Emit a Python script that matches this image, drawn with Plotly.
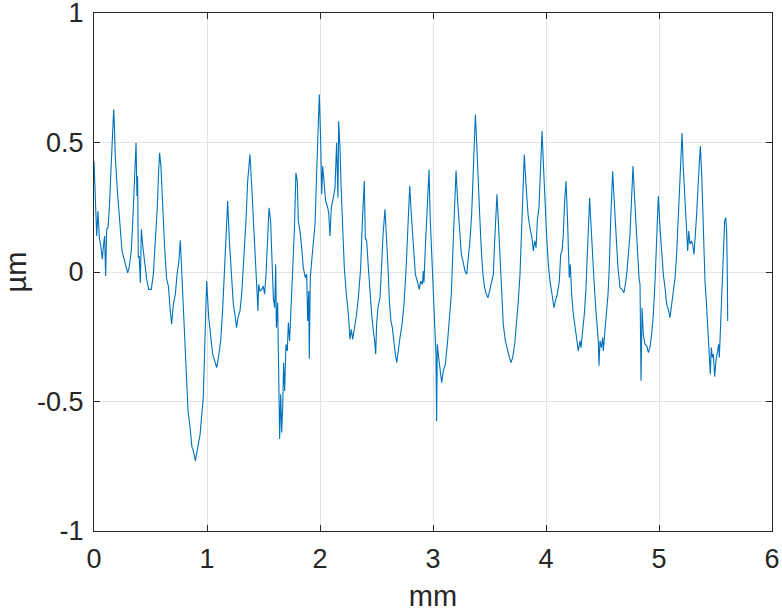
import plotly.graph_objects as go

# Profile position (mm) and height (um)
x_mm = [
    0.000, 0.018, 0.024, 0.035, 0.047, 0.062, 0.074, 0.083, 0.094, 0.103,
    0.112, 0.124, 0.136, 0.150, 0.165, 0.174, 0.180, 0.189, 0.207, 0.230,
    0.248, 0.271, 0.298, 0.313, 0.330, 0.342, 0.357, 0.372, 0.380, 0.386,
    0.392, 0.400, 0.410, 0.419, 0.430, 0.445, 0.466, 0.484, 0.507, 0.525,
    0.543, 0.560, 0.572, 0.581, 0.593, 0.608, 0.625, 0.643, 0.658, 0.673,
    0.687, 0.702, 0.720, 0.735, 0.750, 0.764, 0.779, 0.797, 0.814, 0.832,
    0.850, 0.867, 0.879, 0.897, 0.915, 0.938, 0.967, 0.982, 0.997, 1.015,
    1.032, 1.050, 1.068, 1.086, 1.103, 1.121, 1.138, 1.156, 1.171, 1.183,
    1.198, 1.215, 1.233, 1.251, 1.262, 1.274, 1.292, 1.309, 1.327, 1.345,
    1.360, 1.380, 1.395, 1.410, 1.428, 1.439, 1.451, 1.457, 1.469, 1.486,
    1.498, 1.510, 1.522, 1.537, 1.549, 1.563, 1.575, 1.587, 1.599, 1.608,
    1.614, 1.625, 1.631, 1.637, 1.643, 1.652, 1.661, 1.670, 1.678, 1.687,
    1.699, 1.711, 1.720, 1.731, 1.743, 1.758, 1.773, 1.787, 1.799, 1.808,
    1.823, 1.838, 1.852, 1.870, 1.882, 1.891, 1.900, 1.905, 1.914, 1.929,
    1.944, 1.956, 1.970, 1.985, 1.994, 2.006, 2.015, 2.024, 2.035, 2.050,
    2.065, 2.077, 2.088, 2.100, 2.118, 2.133, 2.147, 2.159, 2.165, 2.177,
    2.186, 2.198, 2.215, 2.233, 2.251, 2.265, 2.277, 2.289, 2.307, 2.324,
    2.342, 2.360, 2.375, 2.384, 2.392, 2.401, 2.413, 2.428, 2.442, 2.457,
    2.472, 2.484, 2.493, 2.501, 2.513, 2.531, 2.543, 2.558, 2.575, 2.590,
    2.602, 2.614, 2.628, 2.640, 2.655, 2.667, 2.679, 2.693, 2.708, 2.726,
    2.743, 2.761, 2.776, 2.794, 2.808, 2.826, 2.844, 2.861, 2.879, 2.891,
    2.906, 2.914, 2.920, 2.932, 2.944, 2.956, 2.965, 2.974, 2.985, 2.997,
    3.009, 3.021, 3.026, 3.032, 3.038, 3.050, 3.062, 3.077, 3.091, 3.109,
    3.127, 3.145, 3.162, 3.177, 3.192, 3.204, 3.218, 3.233, 3.251, 3.268,
    3.283, 3.298, 3.313, 3.327, 3.342, 3.354, 3.366, 3.375, 3.386, 3.398,
    3.413, 3.428, 3.442, 3.457, 3.472, 3.487, 3.501, 3.519, 3.534, 3.546,
    3.558, 3.566, 3.578, 3.593, 3.608, 3.622, 3.640, 3.658, 3.676, 3.690,
    3.705, 3.723, 3.741, 3.755, 3.770, 3.785, 3.797, 3.808, 3.823, 3.841,
    3.858, 3.876, 3.888, 3.900, 3.912, 3.923, 3.938, 3.953, 3.965, 3.976,
    3.988, 4.006, 4.021, 4.035, 4.053, 4.071, 4.083, 4.100, 4.118, 4.130,
    4.142, 4.153, 4.165, 4.177, 4.189, 4.201, 4.206, 4.215, 4.227, 4.242,
    4.257, 4.271, 4.286, 4.301, 4.310, 4.324, 4.339, 4.354, 4.366, 4.378,
    4.386, 4.398, 4.410, 4.425, 4.440, 4.454, 4.463, 4.469, 4.478, 4.490,
    4.502, 4.507, 4.519, 4.534, 4.549, 4.560, 4.572, 4.581, 4.590, 4.602,
    4.614, 4.625, 4.637, 4.655, 4.673, 4.690, 4.702, 4.714, 4.729, 4.743,
    4.755, 4.770, 4.782, 4.797, 4.808, 4.823, 4.832, 4.841, 4.850, 4.861,
    4.876, 4.891, 4.906, 4.920, 4.935, 4.950, 4.965, 4.979, 4.994, 5.009,
    5.024, 5.038, 5.053, 5.068, 5.086, 5.097, 5.112, 5.127, 5.142, 5.156,
    5.171, 5.186, 5.204, 5.215, 5.230, 5.245, 5.254, 5.263, 5.274, 5.286,
    5.298, 5.310, 5.321, 5.333, 5.348, 5.366, 5.378, 5.392, 5.407, 5.422,
    5.437, 5.448, 5.454, 5.463, 5.472, 5.481, 5.493, 5.504, 5.516, 5.528,
    5.534, 5.546, 5.558, 5.569, 5.581, 5.590, 5.599, 5.605, 5.608,
]
y_um = [
    0.428, 0.248, 0.139, 0.235, 0.132, 0.094, 0.049, 0.100, 0.139, -0.015,
    0.165, 0.171, 0.248, 0.390, 0.595, 0.627, 0.570, 0.440, 0.312, 0.184,
    0.081, 0.042, -0.003, 0.023, 0.081, 0.184, 0.351, 0.499, 0.293, 0.370,
    0.055, 0.062, -0.041, 0.165, 0.107, 0.042, -0.028, -0.067, -0.067, -0.009,
    0.120, 0.248, 0.390, 0.460, 0.402, 0.248, 0.094, -0.028, -0.054, -0.138,
    -0.202, -0.125, -0.086, -0.009, 0.036, 0.122, -0.035, -0.202, -0.369, -0.536,
    -0.600, -0.677, -0.690, -0.729, -0.684, -0.630, -0.485, -0.292, -0.035, -0.176,
    -0.253, -0.317, -0.343, -0.369, -0.324, -0.266, -0.150, 0.017, 0.184, 0.274,
    0.120, -0.009, -0.125, -0.176, -0.215, -0.176, -0.150, -0.073, 0.042, 0.197,
    0.351, 0.454, 0.338, 0.197, 0.055, -0.048, -0.150, -0.048, -0.073, -0.067,
    -0.054, -0.086, -0.009, 0.132, 0.248, 0.197, 0.042, -0.099, -0.138, 0.030,
    -0.215, -0.118, -0.292, -0.459, -0.645, -0.472, -0.620, -0.523, -0.350, -0.459,
    -0.279, -0.305, -0.195, -0.266, -0.150, -0.035, 0.158, 0.383, 0.351, 0.197,
    0.158, 0.094, 0.017, -0.022, -0.009, -0.189, -0.073, -0.335, -0.022, 0.055,
    0.120, 0.184, 0.377, 0.634, 0.685, 0.505, 0.300, 0.409, 0.338, 0.274,
    0.254, 0.229, 0.139, 0.248, 0.287, 0.325, 0.499, 0.287, 0.582, 0.479,
    0.338, 0.222, 0.017, -0.086, -0.163, -0.260, -0.221, -0.260, -0.215, -0.163,
    -0.086, 0.017, 0.197, 0.274, 0.351, 0.132, 0.120, 0.017, -0.086, -0.163,
    -0.228, -0.266, -0.317, -0.202, -0.138, -0.099, 0.004, 0.145, 0.242, 0.132,
    0.017, -0.112, -0.189, -0.215, -0.279, -0.317, -0.350, -0.292, -0.253, -0.202,
    -0.125, 0.004, 0.171, 0.332, 0.222, 0.081, -0.009, -0.035, -0.067, -0.035,
    -0.048, 0.004, -0.041, 0.094, 0.222, 0.300, 0.396, 0.222, 0.094, -0.035,
    -0.163, -0.253, -0.317, -0.575, -0.279, -0.330, -0.382, -0.427, -0.382, -0.356,
    -0.279, -0.189, -0.086, 0.094, 0.287, 0.392, 0.274, 0.171, 0.068, 0.036,
    0.004, -0.009, 0.055, 0.120, 0.222, 0.389, 0.531, 0.608, 0.505, 0.351,
    0.222, 0.081, -0.009, -0.060, -0.086, -0.099, -0.073, -0.035, -0.009, 0.120,
    0.248, 0.300, 0.197, 0.068, -0.086, -0.202, -0.266, -0.305, -0.330, -0.350,
    -0.330, -0.279, -0.189, -0.112, -0.009, 0.184, 0.377, 0.454, 0.338, 0.222,
    0.171, 0.132, 0.081, 0.120, 0.094, 0.197, 0.248, 0.415, 0.544, 0.428,
    0.287, 0.132, 0.030, -0.035, -0.086, -0.138, -0.112, -0.086, -0.035, 0.068,
    0.081, 0.145, 0.274, 0.351, 0.222, 0.042, -0.022, 0.030, -0.086, -0.163,
    -0.215, -0.253, -0.305, -0.266, -0.292, -0.228, -0.163, -0.060, 0.094, 0.222,
    0.287, 0.184, 0.068, -0.035, -0.138, -0.215, -0.266, -0.362, -0.266, -0.292,
    -0.253, -0.305, -0.228, -0.163, -0.086, 0.017, 0.197, 0.325, 0.389, 0.287,
    0.171, 0.107, 0.017, -0.060, -0.067, -0.080, -0.048, -0.009, 0.068, 0.145,
    0.261, 0.409, 0.300, 0.184, 0.081, -0.022, -0.048, -0.420, -0.138, -0.240,
    -0.279, -0.285, -0.311, -0.292, -0.240, -0.163, -0.035, 0.158, 0.293, 0.171,
    0.068, -0.009, -0.060, -0.125, -0.150, -0.176, -0.125, -0.073, -0.022, 0.068,
    0.222, 0.377, 0.537, 0.402, 0.287, 0.184, 0.081, 0.158, 0.107, 0.120,
    0.107, 0.068, 0.132, 0.222, 0.351, 0.486, 0.377, 0.158, -0.035, -0.138,
    -0.266, -0.317, -0.395, -0.292, -0.330, -0.317, -0.404, -0.343, -0.317, -0.279,
    -0.330, -0.189, -0.060, 0.068, 0.197, 0.210, 0.158, -0.035, -0.189,
]

x_ticks = [0, 1, 2, 3, 4, 5, 6]
x_tick_text = ["0", "1", "2", "3", "4", "5", "6"]
y_ticks = [-1, -0.5, 0, 0.5, 1]
y_tick_text = ["-1", "-0.5", "0", "0.5", "1"]

fig = go.Figure()
fig.add_trace(go.Scatter(
    x=x_mm, y=y_um, mode="lines",
    line=dict(color="#0072BD", width=1.1),
    showlegend=False, hoverinfo="skip",
))

font_family = "Liberation Sans, Arial, sans-serif"
axis_common = dict(
    showline=True, linecolor="#262626", linewidth=1, mirror="ticks",
    ticks="inside", ticklen=6, tickcolor="#262626", tickwidth=1,
    showgrid=True, gridcolor="#e3e3e3", gridwidth=1,
    zeroline=False, ticklabeloverflow="allow", automargin=False,
    tickfont=dict(family=font_family, size=27, color="#262626"),
    title_font=dict(family=font_family, size=29, color="#262626"),
)

fig.update_xaxes(
    range=[0, 6], tickvals=x_ticks, ticktext=x_tick_text,
    title_text="mm", title_standoff=12, ticklabelstandoff=4, **axis_common,
)
fig.update_yaxes(
    range=[-1, 1], tickvals=y_ticks, ticktext=y_tick_text,
    title_text="µm", title_standoff=19, ticklabelstandoff=4, **axis_common,
)

fig.update_layout(
    width=782, height=614,
    margin=dict(l=94, r=10, t=13, b=83, pad=0),
    plot_bgcolor="white", paper_bgcolor="white",
)

fig.write_html("out.html")
